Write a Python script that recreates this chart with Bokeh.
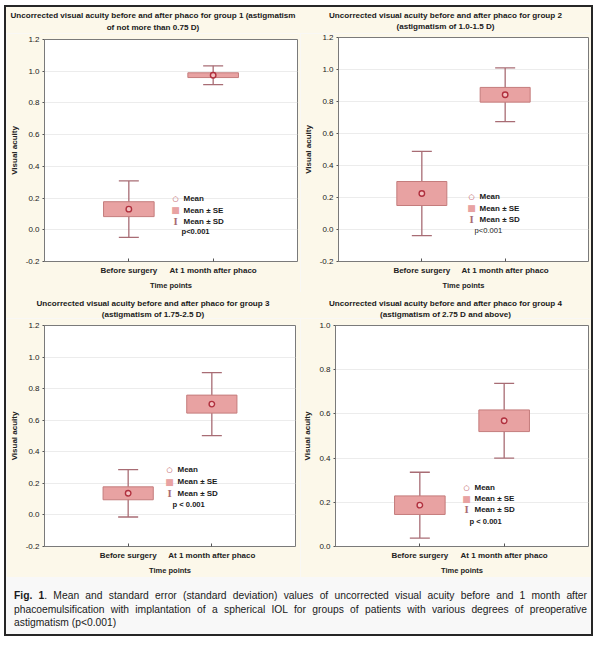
from bokeh.plotting import figure
from bokeh.models import (ColumnDataSource, FactorRange, FixedTicker, Whisker, TeeHead,
                          Label, Div, PrintfTickFormatter)
from bokeh.layouts import column, row
from bokeh.embed import file_html
from bokeh.resources import INLINE

# ---------------- data ----------------
time_points = ["Before surgery", "At 1 month after phaco"]

g1_mean = [0.13, 0.975]
g1_se = [0.047, 0.015]
g1_sd = [0.178, 0.059]

g2_mean = [0.225, 0.842]
g2_se = [0.075, 0.046]
g2_sd = [0.263, 0.168]

g3_mean = [0.137, 0.702]
g3_se = [0.041, 0.057]
g3_sd = [0.150, 0.200]

g4_mean = [0.187, 0.569]
g4_se = [0.042, 0.049]
g4_sd = [0.149, 0.169]

titles = [
    ["Uncorrected visual acuity before and after phaco for group 1 (astigmatism",
     "of not more than 0.75 D)"],
    ["Uncorrected visual acuity before and after phaco for group 2",
     "(astigmatism of 1.0-1.5 D)"],
    ["Uncorrected visual acuity before and after phaco for group 3",
     "(astigmatism of 1.75-2.5 D)"],
    ["Uncorrected visual acuity before and after phaco for group 4",
     "(astigmatism of 2.75 D and above)"],
]
p_texts = ["p<0.001", "p<0.001", "p < 0.001", "p < 0.001"]
legend_texts = ["Mean", "Mean \u00b1 SE", "Mean \u00b1 SD"]

ticks_a = [-0.2, 0.0, 0.2, 0.4, 0.6, 0.8, 1.0, 1.2]
ticks_b = [0.0, 0.2, 0.4, 0.6, 0.8, 1.0]

caption_html = ("<b>Fig. 1</b>. Mean and standard error (standard deviation) values of uncorrected "
                "visual acuity before and 1 month after phacoemulsification with implantation of a "
                "spherical IOL for groups of patients with various degrees of preoperative "
                "astigmatism (p&lt;0.001)")

# ---------------- style ----------------
FONT = "Liberation Sans"
CREAM = "#fcf8ea"
BOX_FILL = "#e8a2a2"
BOX_LINE = "#c47c7c"
WHISK = "#a86c74"
MEAN_LINE = "#b0303e"
MEAN_FILL = "#f3c0c0"
TITLE_H = 26


def make_panel(mean, se, sd, title, ptext, ticks, yr, w, h, bl, br, bt, bb,
               tpad, tlh, leg, p_bold=True):
    src = ColumnDataSource(dict(
        x=time_points, mean=mean,
        se_lo=[m - s for m, s in zip(mean, se)], se_hi=[m + s for m, s in zip(mean, se)],
        sd_lo=[m - s for m, s in zip(mean, sd)], sd_hi=[m + s for m, s in zip(mean, sd)],
    ))
    p = figure(width=w, height=h - TITLE_H, output_backend="svg", toolbar_location=None,
               x_range=FactorRange(*time_points, range_padding=0.5, range_padding_units="absolute"),
               y_range=yr,
               min_border_left=bl, min_border_right=br, min_border_top=bt - TITLE_H,
               min_border_bottom=bb)
    p.border_fill_color = CREAM
    p.background_fill_color = "#ffffff"
    p.outline_line_color = "#7a7a7a"
    p.outline_line_width = 1

    p.xgrid.grid_line_color = None
    p.ygrid.grid_line_color = "#ececec"
    p.ygrid.ticker = FixedTicker(ticks=ticks)

    yax = p.yaxis[0]
    yax.ticker = FixedTicker(ticks=ticks)
    yax.formatter = PrintfTickFormatter(format="%.1f")
    yax.axis_line_color = None
    yax.major_tick_in = 0
    yax.major_tick_out = 2
    yax.major_tick_line_color = "#555"
    yax.minor_tick_line_color = None
    yax.major_label_text_font = FONT
    yax.major_label_text_font_size = "8px"
    yax.major_label_text_color = "#1a1a1a"
    yax.major_label_standoff = 3
    yax.axis_label = "Visual acuity"
    yax.axis_label_text_font = FONT
    yax.axis_label_text_font_size = "8px"
    yax.axis_label_text_font_style = "bold"
    yax.axis_label_text_color = "#222"
    yax.axis_label_standoff = 4

    xax = p.xaxis[0]
    xax.axis_line_color = None
    xax.major_tick_in = 3
    xax.major_tick_out = 0
    xax.major_tick_line_color = "#555"
    xax.major_label_text_font = FONT
    xax.major_label_text_font_size = "8px"
    xax.major_label_text_font_style = "bold"
    xax.major_label_text_color = "#222"
    xax.major_label_standoff = 4
    xax.axis_label = "Time points"
    xax.axis_label_text_font = FONT
    xax.axis_label_text_font_size = "7.5px"
    xax.axis_label_text_font_style = "bold"
    xax.axis_label_text_color = "#222"
    xax.axis_label_standoff = 3

    wh = Whisker(base="x", upper="sd_hi", lower="sd_lo", source=src,
                 line_color=WHISK, line_width=1.3,
                 upper_head=TeeHead(size=20, line_color=WHISK, line_width=1.3),
                 lower_head=TeeHead(size=20, line_color=WHISK, line_width=1.3),
                 level="underlay")
    p.add_layout(wh)
    p.vbar(x="x", top="se_hi", bottom="se_lo", width=0.6, source=src,
           fill_color=BOX_FILL, line_color=BOX_LINE, line_width=1)
    p.scatter(x="x", y="mean", source=src, marker="circle", size=5.5,
              fill_color=MEAN_FILL, line_color=MEAN_LINE, line_width=1.4)

    lx, ly, tx, dy, px, py = leg
    syms = [("\u25cb", MEAN_LINE, "7px", "DejaVu Sans", "bold"),
            ("\u25a0", BOX_FILL, "9px", "DejaVu Sans", "normal"),
            ("I", WHISK, "9px", "DejaVu Serif", "bold")]
    for k, (s, c, fs, ff, st) in enumerate(syms):
        yy = ly - k * dy
        p.add_layout(Label(x=lx, y=yy, x_units="screen", y_units="screen", text=s,
                           text_align="center", text_baseline="middle",
                           text_font=ff, text_font_size=fs, text_font_style=st,
                           text_color=c))
        p.add_layout(Label(x=tx, y=yy, x_units="screen", y_units="screen",
                           text=legend_texts[k], text_align="left", text_baseline="middle",
                           text_font=FONT, text_font_size="8px",
                           text_font_style="bold", text_color="#1a1a1a"))
    p.add_layout(Label(x=px, y=py, x_units="screen", y_units="screen", text=ptext,
                       text_align="left", text_baseline="middle",
                       text_font=FONT, text_font_size="7.6px",
                       text_font_style="bold" if p_bold else "normal",
                       text_color="#1a1a1a"))

    tdiv = Div(text=('<div style="box-sizing:border-box;width:%dpx;height:%dpx;padding-top:%.1fpx;'
                     'text-align:center;font-family:\'Liberation Sans\',Arial,sans-serif;'
                     'font-weight:bold;font-size:8.1px;line-height:%.1fpx;color:#1a1a1a;'
                     'background:%s;white-space:nowrap;">%s<br>%s</div>')
               % (w, TITLE_H, tpad, tlh, CREAM, title[0], title[1]),
               width=w, height=TITLE_H, margin=0, styles={"background-color": CREAM})
    return column(tdiv, p, spacing=0)


p1 = make_panel(g1_mean, g1_se, g1_sd, titles[0], p_texts[0], ticks_a, (-0.2, 1.2),
                294, 285, 33, 3, 32, 29, 3, 12, (131, 63, 139, 11.5, 137, 30))
p2 = make_panel(g2_mean, g2_se, g2_sd, titles[1], p_texts[1], ticks_a, (-0.2, 1.2),
                291, 285, 32, 3, 30, 29, 2.5, 11.5, (133, 65, 141, 11.5, 136, 31), p_bold=False)
p3 = make_panel(g3_mean, g3_se, g3_sd, titles[2], p_texts[2], ticks_a, (-0.2, 1.2),
                294, 285, 33, 5, 33, 27, 5.5, 11, (125, 77, 133, 12, 128, 42))
p4 = make_panel(g4_mean, g4_se, g4_sd, titles[3], p_texts[3], ticks_b, (0.0, 1.0),
                291, 285, 32, 3, 33, 27, 5.5, 11, (131, 59, 139, 11, 134, 25))

cap = Div(text=('<div style="box-sizing:border-box;width:585px;height:57px;'
                'padding:12px 4px 0 8px;background:#f8f8f8;font-family:\'Liberation Sans\',Arial,sans-serif;'
                'font-size:10.3px;line-height:13.5px;text-align:justify;color:#1a1a1a;">'
                + caption_html + '</div>'),
          width=585, height=57, margin=0)

layout = column(row(p1, p2, spacing=0), row(p3, p4, spacing=0), cap, spacing=0,
                styles={"border": "2px solid #262626", "margin-left": "4px",
                        "margin-top": "5px", "background-color": "#f8f8f8"})

open("out.html", "w").write(file_html(layout, INLINE))
